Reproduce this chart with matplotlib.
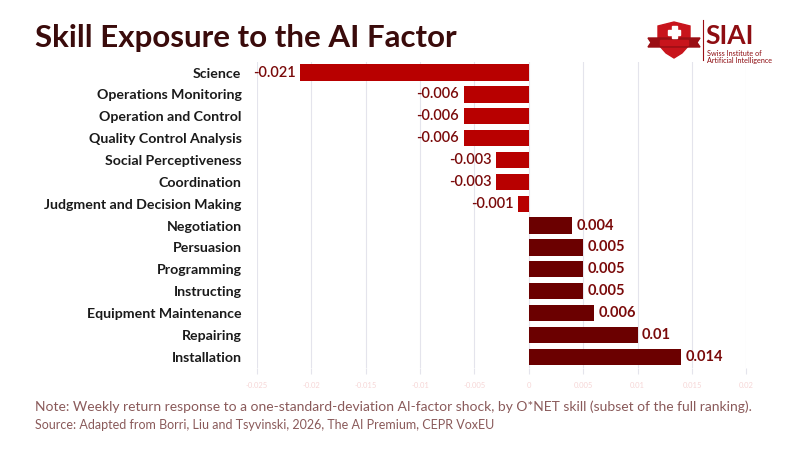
import matplotlib.pyplot as plt
from matplotlib.patches import Polygon, Rectangle
from matplotlib.ticker import FixedLocator

skills = ['Science', 'Operations Monitoring', 'Operation and Control',
          'Quality Control Analysis', 'Social Perceptiveness', 'Coordination',
          'Judgment and Decision Making', 'Negotiation', 'Persuasion',
          'Programming', 'Instructing', 'Equipment Maintenance', 'Repairing',
          'Installation']
exposure = [-0.021, -0.006, -0.006, -0.006, -0.003, -0.003, -0.001,
            0.004, 0.005, 0.005, 0.005, 0.006, 0.01, 0.014]
ticks = [-0.025, -0.02, -0.015, -0.01, -0.005, 0, 0.005, 0.01, 0.015, 0.02]
tick_labels = ['-0.025', '-0.02', '-0.015', '-0.01', '-0.005', '0',
               '0.005', '0.01', '0.015', '0.02']

plt.rcParams['font.family'] = ['Lato', 'DejaVu Sans']

fig = plt.figure(figsize=(8, 4.5), dpi=100)
ax = fig.add_axes([0.321, 0.183, 0.612, 0.68])

colors = ['#B80000' if v < 0 else '#6B0000' for v in exposure]
ypos = list(range(len(skills)))
ax.barh(ypos, exposure, height=0.74, color=colors, zorder=3)
ax.set_ylim(len(skills) - 0.5, -0.5)
ax.set_xlim(-0.025, 0.02)

for y, v in zip(ypos, exposure):
    lab = f'{v:g}'
    if v < 0:
        ax.text(v - 0.0004, y, lab, ha='right', va='center', fontsize=10.5,
                color='#7A0A0A', fontweight='semibold', zorder=4)
    else:
        ax.text(v + 0.0004, y, lab, ha='left', va='center', fontsize=10.5,
                color='#7A0A0A', fontweight='bold', zorder=4)

ax.set_yticks(ypos)
ax.set_yticklabels(skills, fontsize=10.2, fontweight='bold', color='#1A1A1A')
ax.xaxis.set_major_locator(FixedLocator(ticks))
ax.set_xticklabels(tick_labels, fontsize=5.5, color='#F6D6D6')
ax.tick_params(axis='y', length=0, pad=11)
ax.tick_params(axis='x', length=4, color='#E4E4EC', pad=6)
ax.grid(axis='x', color='#E4E4EC', linewidth=0.8, zorder=0)
for s in ax.spines.values():
    s.set_visible(False)

fig.text(0.044, 0.915, 'Skill Exposure to the AI Factor', fontsize=22.5,
         fontweight='bold', color='#3A0B0B', va='center')
fig.text(0.044, 0.097, 'Note: Weekly return response to a one-standard-deviation '
         'AI-factor shock, by O*NET skill (subset of the full ranking).',
         fontsize=10, color='#8A5A5A', va='center')
fig.text(0.044, 0.056, 'Source: Adapted from Borri, Liu and Tsyvinski, 2026, '
         'The AI Premium, CEPR VoxEU', fontsize=9, color='#8A5A5A',
         va='center')

# logo, drawn in pixel units of the figure
lax = fig.add_axes([0, 0, 1, 1], zorder=5)
lax.set_xlim(0, 800)
lax.set_ylim(450, 0)
lax.axis('off')
lax.add_patch(Polygon([[658, 26], [674, 22], [690, 26], [690, 44], [682, 53],
                       [674, 58], [666, 53], [658, 44]],
                      closed=True, color='#C8141C'))
lax.add_patch(Polygon([[648, 38], [700, 38], [697, 42.5], [700, 47], [648, 47],
                       [651, 42.5]], closed=True, color='#9A0E14'))
lax.add_patch(Rectangle((660, 40), 28, 5, color='#C8141C'))
lax.add_patch(Rectangle((671.5, 26), 5, 12, color='white'))
lax.add_patch(Rectangle((668, 29.5), 12, 5, color='white'))
lax.plot([703, 703], [20, 60], color='#9A0E14', linewidth=0.8)
lax.text(705, 43.5, 'SIAI', fontsize=19, fontweight='bold', color='#8E0D12',
         va='baseline', ha='left')
lax.text(707, 50, 'Swiss Institute of\nArtificial Intelligence',
         fontsize=5.2, color='#8E0D12', va='top', linespacing=0.95)

fig.savefig('out.png', dpi=100)
